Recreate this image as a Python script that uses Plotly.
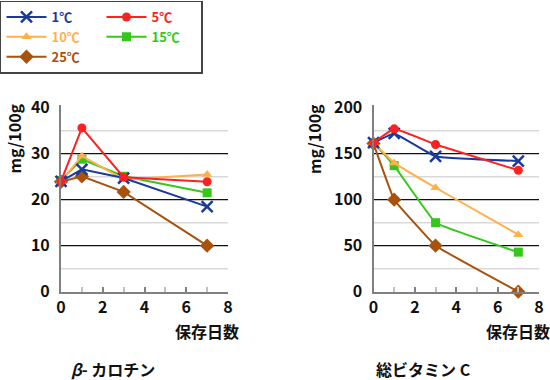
import plotly.graph_objects as go

days = [0, 1, 3, 7]
series_names = ["1℃", "5℃", "10℃", "15℃", "25℃"]
colors = ["#1a3a9c", "#ff2020", "#ffb04c", "#35c81a", "#a8520e"]
symbols = ["x-thin", "circle", "triangle-up", "square", "diamond"]
msizes = [11, 9, 9, 9, 11]

carotene = {
    "1℃": [24.0, 26.6, 24.7, 18.5],
    "5℃": [24.0, 35.6, 24.9, 23.9],
    "10℃": [24.0, 29.5, 24.4, 25.5],
    "15℃": [24.2, 28.8, 25.1, 21.5],
    "25℃": [23.9, 25.1, 21.7, 10.0],
}
vitc = {
    "1℃": [162, 172, 147, 142],
    "5℃": [162, 177, 160, 132],
    "10℃": [162, 140, 113, 62],
    "15℃": [162, 137, 75, 43],
    "25℃": [161, 100, 50, 0],
}

left_major = [10, 20, 30]
left_minor = [5, 15, 25, 35]
right_major = [50, 100, 150]
right_minor = [25, 75, 125, 175]
left_ticks = [0, 10, 20, 30, 40]
right_ticks = [0, 50, 100, 150, 200]
x_ticks = [0, 2, 4, 6, 8]
x_minor = [1, 3, 5, 7]

FONT = "Noto Sans CJK JP"

fig = go.Figure()

order = [4, 3, 2, 0, 1]  # drawing order (blue on top)
for panel, data, xa, ya, shape in [(0, carotene, "x", "y", "linear"), (1, vitc, "x2", "y2", "spline")]:
    for i in order:
        name = series_names[i]
        fig.add_trace(go.Scatter(
            x=days, y=data[name], xaxis=xa, yaxis=ya,
            mode="lines+markers",
            name=f'<span style="color:{colors[i]}">{name}</span>',
            legendgroup=name, showlegend=(panel == 0), legendrank=i + 1,
            line=dict(color=colors[i], width=2, shape=shape, smoothing=0.2),
            marker=dict(symbol=symbols[i], size=msizes[i], color=colors[i],
                        line=dict(color=colors[i], width=2.5 if i == 0 else 0)),
            cliponaxis=False,
        ))

shapes = []
for xref, yref, major, minor in [("x domain", "y", left_major, left_minor),
                                  ("x2 domain", "y2", right_major, right_minor)]:
    for v in minor:
        shapes.append(dict(type="line", xref=xref, yref=yref, x0=0, x1=1, y0=v, y1=v,
                           line=dict(color="#d9d9d9", width=1.5), layer="below"))
    for v in major:
        shapes.append(dict(type="line", xref=xref, yref=yref, x0=0, x1=1, y0=v, y1=v,
                           line=dict(color="#111111", width=1.2), layer="below"))

# soft drop shadow behind the legend box
shapes.append(dict(type="rect", xref="paper", yref="paper",
                   x0=3 / 550, x1=201 / 550, y0=1 - 72.5 / 380, y1=1 - 3 / 380,
                   fillcolor="#b8b8b8", line=dict(width=0), layer="above"))

tickfont = dict(family=FONT, size=16, color="#111", weight="bold")
xcommon = dict(range=[0, 8], tickvals=x_ticks, showline=True, linecolor="#808080", linewidth=2,
               ticks="inside", ticklen=5, tickcolor="#808080", tickwidth=1.5, showgrid=False,
               zeroline=False, tickfont=tickfont,
               minor=dict(tickvals=x_minor, ticks="inside", ticklen=5, tickcolor="#c0c0c0", showgrid=False))
ycommon = dict(showline=True, linecolor="#808080", linewidth=2, ticks="", showgrid=False,
               zeroline=False, tickfont=tickfont, ticklabelstandoff=6)

ydom = [1 - 291.7 / 380, 1 - 105.4 / 380]
fig.update_layout(
    width=550, height=380,
    margin=dict(l=0, r=0, t=0, b=0, autoexpand=False),
    paper_bgcolor="white", plot_bgcolor="white",
    font=dict(family=FONT, color="#111"),
    xaxis=dict(domain=[61 / 550, 228 / 550], anchor="y", **xcommon),
    xaxis2=dict(domain=[373.5 / 550, 539 / 550], anchor="y2", **xcommon),
    yaxis=dict(domain=ydom, anchor="x", range=[0, 40.5], tickvals=left_ticks, **ycommon),
    yaxis2=dict(domain=ydom, anchor="x2", range=[0, 202.5], tickvals=right_ticks, **ycommon),
    shapes=shapes,
    showlegend=True,
    legend=dict(x=-1e-6, y=1 - 0.5 / 380, xanchor="left", yanchor="top",
                bgcolor="white", bordercolor="#444", borderwidth=1.5,
                font=dict(family=FONT, size=13, weight="bold"),
                itemwidth=40, entrywidth=45, entrywidthmode="pixels",
                orientation="h", traceorder="normal"),
)

ann_font = dict(family=FONT, size=16, color="#111", weight="bold")
annotations = [
    dict(text="mg/100g", x=13.5 / 550, y=1 - 139 / 380, textangle=-90),
    dict(text="mg/100g", x=314 / 550, y=1 - 139 / 380, textangle=-90),
    dict(text="保存日数", x=206.5 / 550, y=1 - 330.5 / 380),
    dict(text="保存日数", x=518 / 550, y=1 - 330.5 / 380),
    dict(text="<i>β</i>- カロチン", x=113 / 550, y=1 - 369 / 380),
    dict(text="総ビタミン C", x=423 / 550, y=1 - 369 / 380),
]
for a in annotations:
    fig.add_annotation(xref="paper", yref="paper", showarrow=False, font=ann_font,
                       xanchor="center", yanchor="middle", **a)

fig.write_html("out.html", config={"displayModeBar": False},
               post_script="document.body.style.margin='0';document.body.style.padding='0';")
